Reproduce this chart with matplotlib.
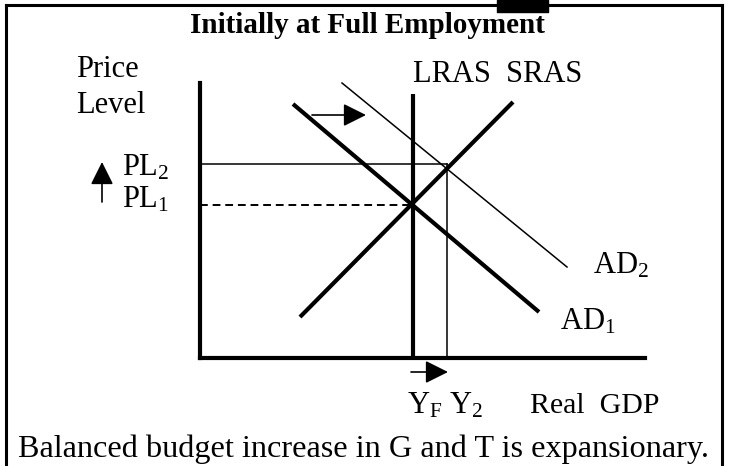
import matplotlib.pyplot as plt

plt.rcParams['font.family'] = ['Liberation Serif', 'DejaVu Serif']
plt.rcParams['mathtext.fontset'] = 'custom'
plt.rcParams['mathtext.rm'] = 'Liberation Serif'
plt.rcParams['mathtext.it'] = 'Liberation Serif:italic'

# Diagram coordinates: origin at the corner of the axes, price level upward
# curve end points (Real GDP, Price level)
sras_x = [100, 313]
sras_y = [41, 256]
ad1_x = [93, 339]
ad1_y = [254, 46]
ad2_x = [142, 367]
ad2_y = [275, 91]

yf = 213          # full employment output (LRAS)
y2 = 247          # new output
pl1 = 153         # initial price level
pl2 = 194         # new price level
lras_top = 264
axis_top = 275
axis_right = 445

fig = plt.figure(figsize=(7.31, 4.66), dpi=100)
ax = fig.add_axes([0, 0, 1, 1])
ax.set_xlim(-200, 531)
ax.set_ylim(-108, 358)
ax.axis('off')

# outer frame
ax.plot([-194, -194], [-108, 353.5], color='black', lw=2.2)
ax.plot([-194, 522], [353.5, 353.5], color='black', lw=2.2)
ax.plot([522, 522], [-108, 353.5], color='black', lw=2.2)
ax.fill_between([297, 348], 346, 358, color='black')

# axes of the diagram
ax.plot([0, 0], [0, axis_top], color='black', lw=3, solid_capstyle='projecting')
ax.plot([0, axis_right], [0, 0], color='black', lw=3, solid_capstyle='projecting')

# curves
ax.plot([yf, yf], [0, lras_top], color='black', lw=3, solid_capstyle='butt')
ax.plot(sras_x, sras_y, color='black', lw=3, solid_capstyle='butt')
ax.plot(ad1_x, ad1_y, color='black', lw=3, solid_capstyle='butt')
ax.plot(ad2_x, ad2_y, color='black', lw=1.1)

# guide lines
ax.plot([0, yf], [pl1, pl1], color='black', lw=1.4, dashes=[4, 2.5])
ax.plot([0, y2], [pl2, pl2], color='black', lw=1.1)
ax.plot([y2, y2], [0, pl2], color='black', lw=1.1)

# arrows
arrow = dict(arrowstyle='-|>,head_length=1.0,head_width=0.5', color='black',
             lw=1.2, shrinkA=0, shrinkB=0, mutation_scale=14)
ax.annotate('', xy=(166, 243), xytext=(112, 243), arrowprops=arrow)
ax.annotate('', xy=(248, -14), xytext=(211, -14), arrowprops=arrow)
ax.annotate('', xy=(-98, 196), xytext=(-98, 156), arrowprops=arrow)

# labels
fs = 22
ax.text(167, 325, 'Initially at Full Employment', fontsize=21, fontweight='bold',
        ha='center', va='baseline')
ax.text(-124, 281, 'Price', fontsize=fs, va='baseline')
ax.text(-124, 245, 'Level', fontsize=fs, va='baseline')
ax.text(-78, 182, r'PL$_2$', fontsize=fs, va='baseline')
ax.text(-78, 150, r'PL$_1$', fontsize=fs, va='baseline')
ax.text(213, 276, 'LRAS  SRAS', fontsize=fs, va='baseline')
ax.text(393, 85, r'AD$_2$', fontsize=fs, va='baseline')
ax.text(360, 28, r'AD$_1$', fontsize=fs, va='baseline')
ax.text(207, -55, r'Y$_\mathrm{F}$ Y$_2$', fontsize=fs, va='baseline')
ax.text(330, -55, 'Real  GDP', fontsize=21.5, va='baseline')
ax.text(-182, -99, 'Balanced budget increase in G and T is expansionary.',
        fontsize=23.2, va='baseline')

fig.savefig('out.png', dpi=100)
